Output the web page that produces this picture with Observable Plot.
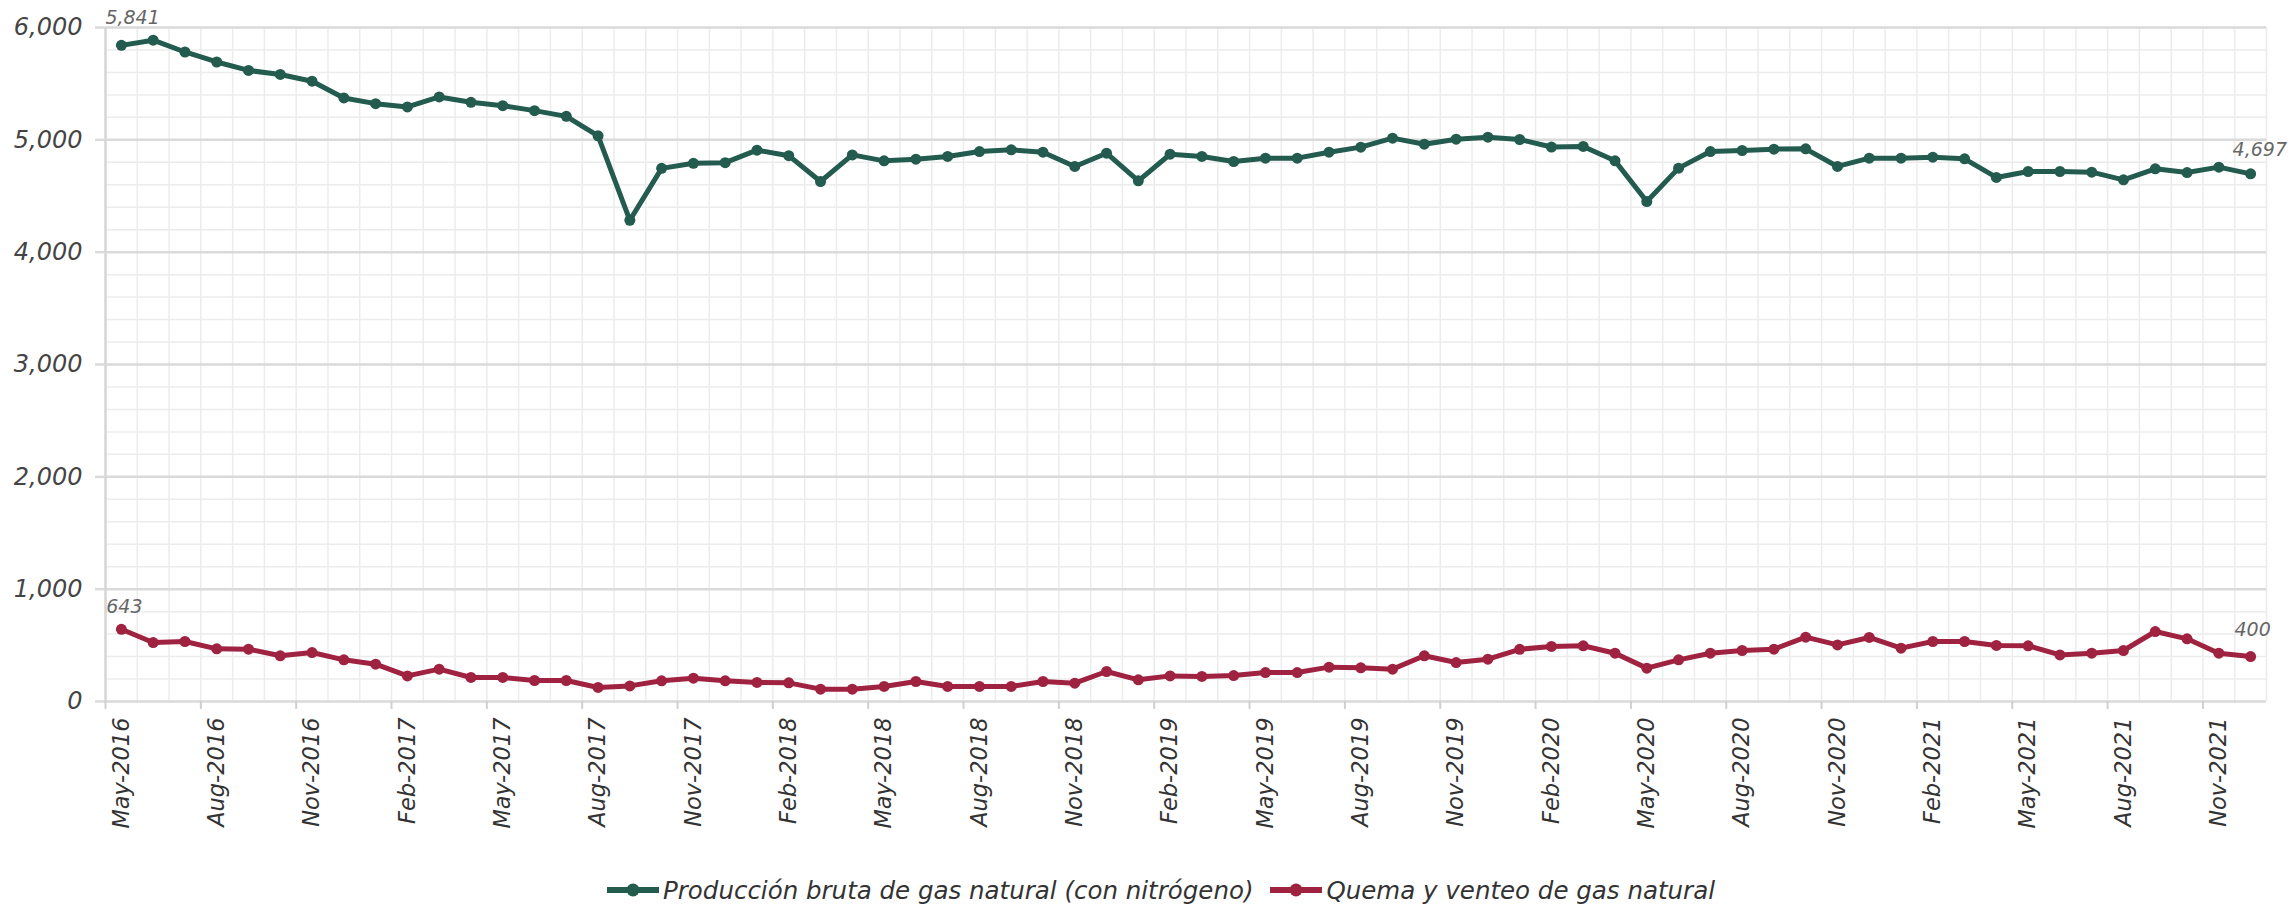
<!DOCTYPE html>
<html><head><meta charset="utf-8">
<script src="https://cdn.jsdelivr.net/npm/d3@7"></script>
<script src="https://cdn.jsdelivr.net/npm/@observablehq/plot@0.6"></script>
<style>
body{margin:0;background:#fff;font-family:"DejaVu Sans",sans-serif;}
#legend{display:flex;justify-content:center;align-items:center;gap:16px;height:40px;margin-top:4px;padding-left:26px;font-style:italic;font-weight:200;font-size:24.5px;color:#333;}
.item{display:flex;align-items:center;gap:3px;}
</style></head><body>
<div id="chart"></div>
<div id="legend"></div>
<script>
const months = [
 "May-2016","Jun-2016","Jul-2016","Aug-2016","Sep-2016","Oct-2016","Nov-2016","Dec-2016",
 "Jan-2017","Feb-2017","Mar-2017","Apr-2017","May-2017","Jun-2017","Jul-2017","Aug-2017","Sep-2017","Oct-2017","Nov-2017","Dec-2017",
 "Jan-2018","Feb-2018","Mar-2018","Apr-2018","May-2018","Jun-2018","Jul-2018","Aug-2018","Sep-2018","Oct-2018","Nov-2018","Dec-2018",
 "Jan-2019","Feb-2019","Mar-2019","Apr-2019","May-2019","Jun-2019","Jul-2019","Aug-2019","Sep-2019","Oct-2019","Nov-2019","Dec-2019",
 "Jan-2020","Feb-2020","Mar-2020","Apr-2020","May-2020","Jun-2020","Jul-2020","Aug-2020","Sep-2020","Oct-2020","Nov-2020","Dec-2020",
 "Jan-2021","Feb-2021","Mar-2021","Apr-2021","May-2021","Jun-2021","Jul-2021","Aug-2021","Sep-2021","Oct-2021","Nov-2021","Dec-2021"
];
const produccion = [
 5841,5887,5782,5693,5618,5582,5522,5373,
 5322,5293,5382,5334,5304,5260,5209,5036,4284,4746,4791,4797,
 4908,4859,4629,4866,4813,4828,4852,4896,4911,4890,4763,4881,
 4635,4872,4852,4807,4837,4837,4890,4935,5015,4961,5006,5024,
 5003,4936,4941,4813,4451,4748,4896,4905,4917,4920,4763,4837,
 4837,4846,4831,4665,4718,4718,4712,4644,4742,4709,4757,4697
];
const quema = [
 643,525,534,469,466,407,436,371,
 332,228,288,214,214,187,187,125,139,184,208,184,
 170,166,110,110,134,178,134,134,134,178,163,267,
 193,228,223,231,258,258,306,300,288,407,347,377,
 465,490,496,430,297,371,430,454,466,573,504,570,
 475,534,534,499,496,415,430,454,623,558,430,400
];
const tickLabels = ["May-2016","Aug-2016","Nov-2016","Feb-2017","May-2017","Aug-2017","Nov-2017","Feb-2018","May-2018","Aug-2018","Nov-2018","Feb-2019","May-2019","Aug-2019","Nov-2019","Feb-2020","May-2020","Aug-2020","Nov-2020","Feb-2021","May-2021","Aug-2021","Nov-2021"];
const yTicks = [0,1000,2000,3000,4000,5000,6000];
const seriesNames = ["Producción bruta de gas natural (con nitrógeno)","Quema y venteo de gas natural"];
const colors = ["#235B4E","#9F2241"];

const n = months.length;
const prodData = months.map((m,i)=>({i, v: produccion[i]}));
const quemaData = months.map((m,i)=>({i, v: quema[i]}));
const minorY = d3.range(0, 6001, 200);
const bounds = d3.range(-0.5, n, 1);
const tickIdx = tickLabels.map(l => months.indexOf(l));
const fmt = d3.format(",");
const firstLast = (arr) => [{i:0, v:arr[0]}, {i:n-1, v:arr[n-1]}];
const F = "'DejaVu Sans', sans-serif";

const chart = Plot.plot({
  width: 2295, height: 866,
  marginLeft: 105, marginRight: 29, marginTop: 27, marginBottom: 165,
  x: {domain: [-0.5, n - 0.5]},
  y: {domain: [0, 6000]},
  style: {fontFamily: F, background: "transparent", overflow: "visible"},
  marks: [
    Plot.ruleY(minorY, {stroke: "#ececec", strokeWidth: 1.5}),
    Plot.ruleX(bounds, {stroke: "#ececec", strokeWidth: 1.5}),
    Plot.ruleY(yTicks, {stroke: "#dadada", strokeWidth: 2.5}),
    Plot.ruleX([-0.5], {stroke: "#d6d6d6", strokeWidth: 2.5}),
    Plot.axisY({ticks: yTicks, tickFormat: fmt, tickSize: 10, tickPadding: 13, fontSize: 24, fontStyle: "italic", fontWeight: 200, fill: "#444", stroke: "#dadada", strokeWidth: 2.5, label: null}),
    Plot.axisX({ticks: tickIdx.map(i => i - 0.5), tickFormat: () => "", tickSize: 8, stroke: "#d0d0d0", strokeWidth: 2, label: null}),
    Plot.axisX({ticks: tickIdx, tickFormat: i => months[i], tickSize: 0, tickPadding: 16, tickRotate: -90, fontSize: 22.5, fontStyle: "italic", fontWeight: 200, fill: "#333", label: null}),
    Plot.line(prodData, {x: "i", y: "v", stroke: colors[0], strokeWidth: 5}),
    Plot.dot(prodData, {x: "i", y: "v", fill: colors[0], r: 5.5}),
    Plot.line(quemaData, {x: "i", y: "v", stroke: colors[1], strokeWidth: 5}),
    Plot.dot(quemaData, {x: "i", y: "v", fill: colors[1], r: 5.5}),
    Plot.text([firstLast(produccion)[0]], {x: "i", y: "v", text: d => fmt(d.v), dy: -27, dx: -16, textAnchor: "start", fontSize: 19, fontStyle: "italic", fontWeight: 200, fill: "#666"}),
    Plot.text([firstLast(produccion)[1]], {x: "i", y: "v", text: d => fmt(d.v), dy: -24, dx: -18, textAnchor: "start", fontSize: 19, fontStyle: "italic", fontWeight: 200, fill: "#666"}),
    Plot.text([firstLast(quema)[0]], {x: "i", y: "v", text: d => fmt(d.v), dy: -22, dx: 3, fontSize: 19, fontStyle: "italic", fontWeight: 200, fill: "#666"}),
    Plot.text([firstLast(quema)[1]], {x: "i", y: "v", text: d => fmt(d.v), dy: -27, dx: 2, fontSize: 19, fontStyle: "italic", fontWeight: 200, fill: "#666"})
  ]
});
document.getElementById("chart").appendChild(chart);

const legend = document.getElementById("legend");
seriesNames.forEach((name, k) => {
  const item = document.createElement("div");
  item.className = "item";
  item.innerHTML = `<svg width="54" height="16"><line x1="1" y1="8" x2="53" y2="8" stroke="${colors[k]}" stroke-width="6"/><circle cx="27" cy="8" r="6.5" fill="${colors[k]}"/></svg><span>${name}</span>`;
  legend.appendChild(item);
});
</script>
</body></html>
